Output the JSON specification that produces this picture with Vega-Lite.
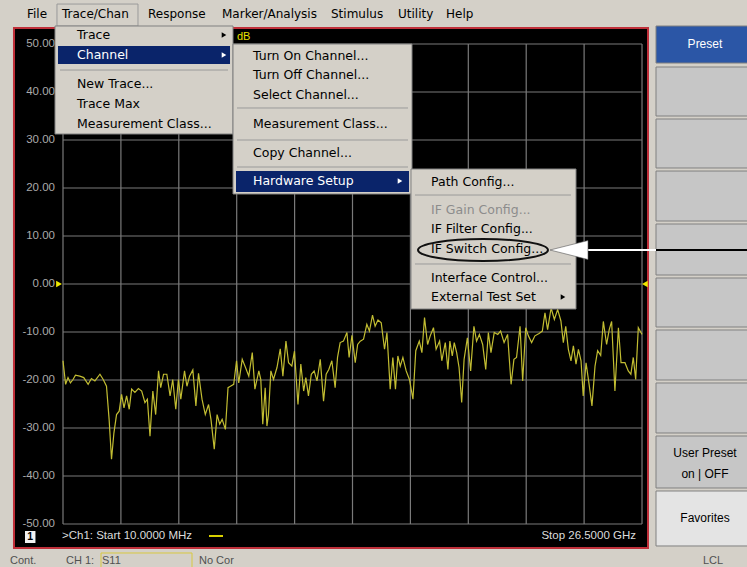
{
  "$schema": "https://vega.github.io/schema/vega-lite/v6.json",
  "width": 747,
  "height": 567,
  "padding": 0,
  "autosize": {"type": "none"},
  "background": "#d4d0c8",
  "config": {"view": {"stroke": null}, "axis": {"disable": true}},
  "data": {"values": [{}]},
  "datasets": {
    "window": [{"f": -2.232, "f2": 26.774, "db": 53.33, "db2": -55.0}],
    "buttons": [
      {"label": "Preset", "state": "active", "db": 53.75, "db2": 46.04, "mid": 49.9},
      {"label": "", "state": "normal", "db": 45.21, "db2": 35.0, "mid": 40.1},
      {"label": "", "state": "normal", "db": 34.375, "db2": 24.17, "mid": 29.3},
      {"label": "", "state": "normal", "db": 23.54, "db2": 13.125, "mid": 18.3},
      {"label": "", "state": "normal", "db": 12.5, "db2": 1.875, "mid": 7.2},
      {"label": "", "state": "normal", "db": 1.25, "db2": -8.96, "mid": -3.9},
      {"label": "", "state": "normal", "db": -9.58, "db2": -20.0, "mid": -14.8},
      {"label": "", "state": "normal", "db": -20.625, "db2": -31.04, "mid": -25.8},
      {"label": ["User Preset", "on | OFF"], "state": "normal", "db": -31.67, "db2": -42.5, "mid": -35.2},
      {"label": "Favorites", "state": "light", "db": -43.125, "db2": -54.58, "mid": -48.85}
    ],
    "vgrid": [
      {"f": 0.01}, {"f": 2.659}, {"f": 5.308}, {"f": 7.957}, {"f": 10.606}, {"f": 13.255},
      {"f": 15.904}, {"f": 18.553}, {"f": 21.202}, {"f": 23.851}, {"f": 26.5}
    ],
    "hgrid": [
      {"db": 50, "lab": "50.00"}, {"db": 40, "lab": "40.00"}, {"db": 30, "lab": "30.00"},
      {"db": 20, "lab": "20.00"}, {"db": 10, "lab": "10.00"}, {"db": 0, "lab": "0.00"},
      {"db": -10, "lab": "-10.00"}, {"db": -20, "lab": "-20.00"}, {"db": -30, "lab": "-30.00"},
      {"db": -40, "lab": "-40.00"}, {"db": -50, "lab": "-50.00"}
    ],
    "trace": [
      {"f": 0.01, "db": -16.0}, {"f": 0.13, "db": -20.9}, {"f": 0.24, "db": -19.5}, {"f": 0.35, "db": -20.6},
      {"f": 0.47, "db": -19.9}, {"f": 0.58, "db": -19.0}, {"f": 0.78, "db": -19.2}, {"f": 0.96, "db": -19.5},
      {"f": 1.16, "db": -20.9}, {"f": 1.31, "db": -19.7}, {"f": 1.47, "db": -20.2}, {"f": 1.7, "db": -18.8},
      {"f": 1.85, "db": -19.9}, {"f": 2.0, "db": -21.3}, {"f": 2.12, "db": -28.2}, {"f": 2.23, "db": -36.5},
      {"f": 2.34, "db": -31.0}, {"f": 2.46, "db": -27.2}, {"f": 2.58, "db": -26.5}, {"f": 2.69, "db": -23.0},
      {"f": 2.8, "db": -25.8}, {"f": 2.92, "db": -23.3}, {"f": 3.04, "db": -26.1}, {"f": 3.15, "db": -21.9},
      {"f": 3.3, "db": -22.6}, {"f": 3.46, "db": -21.8}, {"f": 3.61, "db": -22.3}, {"f": 3.76, "db": -24.7},
      {"f": 3.87, "db": -24.0}, {"f": 3.99, "db": -31.7}, {"f": 4.12, "db": -22.3}, {"f": 4.25, "db": -27.2},
      {"f": 4.38, "db": -18.1}, {"f": 4.48, "db": -21.6}, {"f": 4.61, "db": -18.8}, {"f": 4.76, "db": -18.8},
      {"f": 4.91, "db": -23.3}, {"f": 5.03, "db": -19.9}, {"f": 5.17, "db": -26.1}, {"f": 5.29, "db": -19.9},
      {"f": 5.4, "db": -24.0}, {"f": 5.57, "db": -18.1}, {"f": 5.68, "db": -21.3}, {"f": 5.8, "db": -19.2},
      {"f": 5.95, "db": -17.9}, {"f": 6.09, "db": -25.4}, {"f": 6.21, "db": -18.6}, {"f": 6.37, "db": -24.0},
      {"f": 6.52, "db": -27.2}, {"f": 6.67, "db": -25.1}, {"f": 6.78, "db": -28.2}, {"f": 6.93, "db": -34.4},
      {"f": 7.06, "db": -27.2}, {"f": 7.18, "db": -29.2}, {"f": 7.29, "db": -28.2}, {"f": 7.44, "db": -30.3},
      {"f": 7.56, "db": -21.6}, {"f": 7.67, "db": -21.3}, {"f": 7.82, "db": -20.9}, {"f": 7.95, "db": -16.0},
      {"f": 8.05, "db": -20.6}, {"f": 8.21, "db": -15.7}, {"f": 8.36, "db": -17.4}, {"f": 8.51, "db": -19.2},
      {"f": 8.67, "db": -14.3}, {"f": 8.79, "db": -21.9}, {"f": 8.97, "db": -18.1},
      {"f": 9.06, "db": -19.9}, {"f": 9.15, "db": -29.2}, {"f": 9.26, "db": -21.6}, {"f": 9.34, "db": -29.6},
      {"f": 9.41, "db": -27.2}, {"f": 9.52, "db": -18.1}, {"f": 9.64, "db": -19.9}, {"f": 9.8, "db": -17.4},
      {"f": 9.95, "db": -13.5}, {"f": 10.07, "db": -19.2}, {"f": 10.21, "db": -11.9}, {"f": 10.33, "db": -16.4},
      {"f": 10.48, "db": -17.1}, {"f": 10.6, "db": -14.0}, {"f": 10.76, "db": -25.1}, {"f": 10.89, "db": -16.7},
      {"f": 11.02, "db": -22.3}, {"f": 11.12, "db": -19.5}, {"f": 11.24, "db": -23.3}, {"f": 11.37, "db": -18.8},
      {"f": 11.5, "db": -18.1}, {"f": 11.63, "db": -20.2}, {"f": 11.78, "db": -15.7}, {"f": 11.93, "db": -24.4},
      {"f": 12.05, "db": -18.8}, {"f": 12.17, "db": -17.8}, {"f": 12.31, "db": -16.0}, {"f": 12.46, "db": -21.6},
      {"f": 12.57, "db": -15.3}, {"f": 12.69, "db": -12.2}, {"f": 12.84, "db": -11.9}, {"f": 13.0, "db": -10.1},
      {"f": 13.1, "db": -15.3}, {"f": 13.23, "db": -10.7}, {"f": 13.38, "db": -16.4}, {"f": 13.49, "db": -12.6},
      {"f": 13.61, "db": -11.9}, {"f": 13.76, "db": -11.5}, {"f": 13.91, "db": -8.4}, {"f": 14.03, "db": -9.8},
      {"f": 14.17, "db": -6.5}, {"f": 14.29, "db": -8.8}, {"f": 14.42, "db": -7.5}, {"f": 14.57, "db": -8.1},
      {"f": 14.72, "db": -13.6}, {"f": 14.83, "db": -10.1}, {"f": 14.98, "db": -21.9}, {"f": 15.1, "db": -15.3},
      {"f": 15.22, "db": -21.9}, {"f": 15.33, "db": -15.0}, {"f": 15.44, "db": -17.1}, {"f": 15.56, "db": -15.3},
      {"f": 15.71, "db": -18.1}, {"f": 15.86, "db": -19.9}, {"f": 16.02, "db": -24.0}, {"f": 16.15, "db": -13.9},
      {"f": 16.31, "db": -11.9}, {"f": 16.43, "db": -14.3}, {"f": 16.55, "db": -7.0}, {"f": 16.69, "db": -12.6},
      {"f": 16.81, "db": -10.8}, {"f": 16.96, "db": -9.1}, {"f": 17.08, "db": -13.6}, {"f": 17.24, "db": -11.9},
      {"f": 17.34, "db": -16.0}, {"f": 17.5, "db": -12.2}, {"f": 17.62, "db": -17.8},
      {"f": 17.71, "db": -11.9}, {"f": 17.82, "db": -15.0}, {"f": 17.91, "db": -12.2}, {"f": 18.02, "db": -14.3},
      {"f": 18.13, "db": -17.4}, {"f": 18.25, "db": -24.7}, {"f": 18.36, "db": -15.7}, {"f": 18.51, "db": -11.2},
      {"f": 18.66, "db": -18.1}, {"f": 18.81, "db": -8.8}, {"f": 18.93, "db": -11.9}, {"f": 19.06, "db": -10.5},
      {"f": 19.21, "db": -12.6}, {"f": 19.35, "db": -17.8}, {"f": 19.47, "db": -10.1}, {"f": 19.59, "db": -14.3},
      {"f": 19.74, "db": -10.1}, {"f": 19.9, "db": -10.5}, {"f": 20.03, "db": -9.8}, {"f": 20.19, "db": -12.2},
      {"f": 20.35, "db": -10.5}, {"f": 20.51, "db": -20.9}, {"f": 20.64, "db": -15.7}, {"f": 20.76, "db": -15.3},
      {"f": 20.92, "db": -8.8}, {"f": 21.04, "db": -20.2}, {"f": 21.18, "db": -9.1}, {"f": 21.3, "db": -10.8},
      {"f": 21.45, "db": -12.2}, {"f": 21.6, "db": -10.8}, {"f": 21.79, "db": -10.3}, {"f": 21.94, "db": -9.8},
      {"f": 22.06, "db": -6.0}, {"f": 22.18, "db": -9.5}, {"f": 22.34, "db": -5.0}, {"f": 22.49, "db": -7.4},
      {"f": 22.64, "db": -5.3}, {"f": 22.79, "db": -7.7}, {"f": 22.9, "db": -12.2}, {"f": 23.01, "db": -8.8},
      {"f": 23.13, "db": -13.6}, {"f": 23.25, "db": -16.0}, {"f": 23.36, "db": -12.9}, {"f": 23.48, "db": -16.7},
      {"f": 23.59, "db": -13.6}, {"f": 23.71, "db": -16.0}, {"f": 23.81, "db": -23.3}, {"f": 23.94, "db": -16.4},
      {"f": 24.07, "db": -20.6}, {"f": 24.21, "db": -25.4}, {"f": 24.35, "db": -17.1}, {"f": 24.47, "db": -13.9},
      {"f": 24.61, "db": -14.9}, {"f": 24.73, "db": -7.8}, {"f": 24.88, "db": -12.6}, {"f": 25.0, "db": -9.5},
      {"f": 25.11, "db": -7.8}, {"f": 25.26, "db": -22.3}, {"f": 25.42, "db": -9.1}, {"f": 25.54, "db": -16.4},
      {"f": 25.72, "db": -16.4}, {"f": 25.87, "db": -18.1}, {"f": 25.99, "db": -18.8}, {"f": 26.1, "db": -15.3},
      {"f": 26.21, "db": -19.9}, {"f": 26.33, "db": -9.1}, {"f": 26.45, "db": -10.1}, {"f": 26.5, "db": -10.5}
    ],
    "menubar": [
      {"label": "File", "f": -1.637}, {"label": "Trace/Chan", "f": -0.036}, {"label": "Response", "f": 3.899},
      {"label": "Marker/Analysis", "f": 7.284}, {"label": "Stimulus", "f": 12.271}, {"label": "Utility", "f": 15.336},
      {"label": "Help", "f": 17.532}
    ],
    "menus": [
      {"f": -0.356, "f2": 7.788, "db": 53.75, "db2": 31.25},
      {"f": 7.788, "f2": 15.977, "db": 50.0, "db2": 18.75},
      {"f": 15.931, "f2": 23.48, "db": 23.96, "db2": -5.21}
    ],
    "highlights": [
      {"f": -0.219, "f2": 7.651, "db": 49.58, "db2": 45.83},
      {"f": 7.925, "f2": 15.84, "db": 23.54, "db2": 19.17}
    ],
    "separators": [
      {"f": -0.127, "f2": 7.559, "db": 44.58},
      {"f": 7.971, "f2": 15.794, "db": 36.67},
      {"f": 7.971, "f2": 15.794, "db": 30.0},
      {"f": 7.971, "f2": 15.794, "db": 24.375},
      {"f": 16.114, "f2": 23.251, "db": 18.54},
      {"f": 16.114, "f2": 23.251, "db": 4.17}
    ],
    "items": [
      {"label": "Trace", "f": 0.651, "db": 51.875, "state": "normal"},
      {"label": "Channel", "f": 0.651, "db": 47.71, "state": "selected"},
      {"label": "New Trace...", "f": 0.651, "db": 41.67, "state": "normal"},
      {"label": "Trace Max", "f": 0.651, "db": 37.5, "state": "normal"},
      {"label": "Measurement Class...", "f": 0.651, "db": 33.33, "state": "normal"},
      {"label": "Turn On Channel...", "f": 8.703, "db": 47.5, "state": "normal"},
      {"label": "Turn Off Channel...", "f": 8.703, "db": 43.54, "state": "normal"},
      {"label": "Select Channel...", "f": 8.703, "db": 39.375, "state": "normal"},
      {"label": "Measurement Class...", "f": 8.703, "db": 33.33, "state": "normal"},
      {"label": "Copy Channel...", "f": 8.703, "db": 27.29, "state": "normal"},
      {"label": "Hardware Setup", "f": 8.703, "db": 21.46, "state": "selected"},
      {"label": "Path Config...", "f": 16.846, "db": 21.25, "state": "normal"},
      {"label": "IF Gain Config...", "f": 16.846, "db": 15.42, "state": "disabled"},
      {"label": "IF Filter Config...", "f": 16.846, "db": 11.46, "state": "normal"},
      {"label": "IF Switch Config...", "f": 16.846, "db": 7.29, "state": "normal"},
      {"label": "Interface Control...", "f": 16.846, "db": 1.25, "state": "normal"},
      {"label": "External Test Set", "f": 16.846, "db": -2.71, "state": "normal"}
    ],
    "arrows": [
      {"f": 7.376, "db": 51.875, "state": "normal"},
      {"f": 7.376, "db": 47.71, "state": "selected"},
      {"f": 15.428, "db": 21.46, "state": "selected"},
      {"f": 22.885, "db": -2.71, "state": "normal"}
    ],
    "callout": [{"f": 19.225, "db": 7.083}],
    "arrowhead": [{"f": 23.16, "db": 7.083}],
    "footer": [
      {"label": ">Ch1: Start  10.0000 MHz", "f": -0.036, "db": -52.5}
    ],
    "footerRight": [
      {"label": "Stop  26.5000 GHz", "f": 26.225, "db": -52.5}
    ],
    "status": [
      {"label": "Cont.", "f": -2.415}, {"label": "CH 1:", "f": 0.147}, {"label": "S11", "f": 1.794},
      {"label": "No Cor", "f": 6.232}, {"label": "LCL", "f": 29.29}
    ]
  },
  "layer": [
    {
      "data": {"name": "window"},
      "mark": {"type": "rect", "fill": "#000000", "stroke": "#c0303a", "strokeWidth": 2},
      "encoding": {
        "x": {"field": "f", "type": "quantitative", "scale": {"domain": [-2.872, 31.303], "nice": false, "zero": false}},
        "x2": {"field": "f2"},
        "y": {"field": "db", "type": "quantitative", "scale": {"domain": [-58.96, 59.17], "nice": false, "zero": false}},
        "y2": {"field": "db2"}
      }
    },
    {
      "data": {"name": "buttons"},
      "mark": {"type": "rect", "stroke": "#808080", "strokeWidth": 1},
      "encoding": {
        "x": {"datum": 27.14},
        "x2": {"datum": 31.6},
        "y": {"field": "db", "type": "quantitative"},
        "y2": {"field": "db2"},
        "fill": {"field": "state", "type": "nominal", "scale": {"domain": ["active", "normal", "light"], "range": ["#2b56a6", "#c6c6c6", "#e4e4e4"]}, "legend": null}
      }
    },
    {
      "data": {"name": "buttons"},
      "mark": {"type": "text", "font": "Liberation Sans", "fontSize": 12, "lineHeight": 21},
      "encoding": {
        "x": {"datum": 29.38},
        "y": {"field": "mid", "type": "quantitative"},
        "text": {"field": "label"},
        "color": {"condition": {"test": "datum.state === 'active'", "value": "#ffffff"}, "value": "#000000"}
      }
    },
    {
      "data": {"name": "vgrid"},
      "mark": {"type": "rule", "color": "#7a7a7a", "strokeWidth": 1.2},
      "encoding": {"x": {"field": "f", "type": "quantitative"}, "y": {"datum": 50}, "y2": {"datum": -50}}
    },
    {
      "data": {"name": "hgrid"},
      "mark": {"type": "rule", "color": "#7a7a7a", "strokeWidth": 1.2},
      "encoding": {"y": {"field": "db", "type": "quantitative"}, "x": {"datum": 0.01}, "x2": {"datum": 26.5}}
    },
    {
      "data": {"name": "hgrid"},
      "mark": {"type": "text", "align": "right", "font": "Liberation Sans", "fontSize": 11.5, "color": "#aaaaaa"},
      "encoding": {"y": {"field": "db", "type": "quantitative"}, "x": {"datum": -0.356}, "text": {"field": "lab"}}
    },
    {
      "data": {"name": "trace"},
      "mark": {"type": "line", "color": "#c2bd32", "strokeWidth": 1.2},
      "encoding": {"x": {"field": "f", "type": "quantitative"}, "y": {"field": "db", "type": "quantitative"}}
    },
    {
      "mark": {"type": "point", "shape": "triangle-right", "filled": true, "size": 45, "color": "#f0e800", "opacity": 1},
      "encoding": {"x": {"datum": -0.17}, "y": {"datum": 0}}
    },
    {
      "mark": {"type": "point", "shape": "triangle-left", "filled": true, "size": 45, "color": "#f0e800", "opacity": 1},
      "encoding": {"x": {"datum": 26.63}, "y": {"datum": 0}}
    },
    {
      "mark": {"type": "text", "align": "left", "font": "Liberation Sans", "fontSize": 11, "color": "#e8e000"},
      "encoding": {"x": {"datum": 7.971}, "y": {"datum": 51.46}, "text": {"value": "dB"}}
    },
    {
      "mark": {"type": "rect", "fill": "#f2f2f2"},
      "encoding": {"x": {"datum": -1.729}, "x2": {"datum": -1.25}, "y": {"datum": -51.46}, "y2": {"datum": -53.96}}
    },
    {
      "mark": {"type": "text", "font": "Liberation Sans", "fontSize": 10.5, "fontWeight": "bold", "color": "#000000"},
      "encoding": {"x": {"datum": -1.49}, "y": {"datum": -52.71}, "text": {"value": "1"}}
    },
    {
      "data": {"name": "footer"},
      "mark": {"type": "text", "align": "left", "font": "Liberation Sans", "fontSize": 11.5, "color": "#dcdcdc"},
      "encoding": {"x": {"field": "f", "type": "quantitative"}, "y": {"field": "db", "type": "quantitative"}, "text": {"field": "label"}}
    },
    {
      "data": {"name": "footerRight"},
      "mark": {"type": "text", "align": "right", "font": "Liberation Sans", "fontSize": 11.5, "color": "#dcdcdc"},
      "encoding": {"x": {"field": "f", "type": "quantitative"}, "y": {"field": "db", "type": "quantitative"}, "text": {"field": "label"}}
    },
    {
      "mark": {"type": "rule", "color": "#d8d000", "strokeWidth": 2},
      "encoding": {"x": {"datum": 6.689}, "x2": {"datum": 7.33}, "y": {"datum": -52.5}}
    },
    {
      "mark": {"type": "rect", "fill": "#d4d0c8", "stroke": "#9a9a9a", "strokeWidth": 1},
      "encoding": {"x": {"datum": -0.265}, "x2": {"datum": 3.441}, "y": {"datum": 58.33}, "y2": {"datum": 53.75}}
    },
    {
      "data": {"name": "menubar"},
      "mark": {"type": "text", "align": "left", "font": "DejaVu Sans", "fontSize": 12, "color": "#000000"},
      "encoding": {"x": {"field": "f", "type": "quantitative"}, "y": {"datum": 56.25}, "text": {"field": "label"}}
    },
    {
      "data": {"name": "menus"},
      "mark": {"type": "rect", "fill": "#d4d0c8", "stroke": "#808080", "strokeWidth": 1},
      "encoding": {"x": {"field": "f", "type": "quantitative"}, "x2": {"field": "f2"}, "y": {"field": "db", "type": "quantitative"}, "y2": {"field": "db2"}}
    },
    {
      "data": {"name": "highlights"},
      "mark": {"type": "rect", "fill": "#0a246a"},
      "encoding": {"x": {"field": "f", "type": "quantitative"}, "x2": {"field": "f2"}, "y": {"field": "db", "type": "quantitative"}, "y2": {"field": "db2"}}
    },
    {
      "data": {"name": "separators"},
      "mark": {"type": "rule", "color": "#9a9a9a", "strokeWidth": 1},
      "encoding": {"x": {"field": "f", "type": "quantitative"}, "x2": {"field": "f2"}, "y": {"field": "db", "type": "quantitative"}}
    },
    {
      "data": {"name": "items"},
      "mark": {"type": "text", "align": "left", "font": "DejaVu Sans", "fontSize": 12.5},
      "encoding": {
        "x": {"field": "f", "type": "quantitative"},
        "y": {"field": "db", "type": "quantitative"},
        "text": {"field": "label"},
        "color": {"field": "state", "type": "nominal", "scale": {"domain": ["normal", "selected", "disabled"], "range": ["#000000", "#ffffff", "#8c8c8c"]}, "legend": null}
      }
    },
    {
      "data": {"name": "arrows"},
      "mark": {"type": "point", "shape": "triangle-right", "filled": true, "size": 28, "opacity": 1},
      "encoding": {
        "x": {"field": "f", "type": "quantitative"},
        "y": {"field": "db", "type": "quantitative"},
        "color": {"field": "state", "type": "nominal", "legend": null}
      }
    },
    {
      "data": {"name": "callout"},
      "mark": {"type": "point", "shape": "M-1,0A1,0.17,0,1,1,1,0A1,0.17,0,1,1,-1,0Z", "filled": false, "size": 16900, "color": "#111111", "strokeWidth": 2, "opacity": 1},
      "encoding": {"x": {"field": "f", "type": "quantitative"}, "y": {"field": "db", "type": "quantitative"}}
    },
    {
      "mark": {"type": "rule", "color": "#ffffff", "strokeWidth": 2},
      "encoding": {"x": {"datum": 24.029}, "x2": {"datum": 27.14}, "y": {"datum": 7.083}}
    },
    {
      "mark": {"type": "rule", "color": "#000000", "strokeWidth": 2},
      "encoding": {"x": {"datum": 27.14}, "x2": {"datum": 31.5}, "y": {"datum": 7.083}}
    },
    {
      "data": {"name": "arrowhead"},
      "mark": {"type": "point", "shape": "M-1,0L1,-0.5L1,0.5Z", "filled": true, "size": 1444, "color": "#ffffff", "stroke": "#555555", "strokeWidth": 0.6, "opacity": 1},
      "encoding": {"x": {"field": "f", "type": "quantitative"}, "y": {"field": "db", "type": "quantitative"}}
    },
    {
      "mark": {"type": "rect", "fill": "transparent", "stroke": "#d8c840", "strokeWidth": 1},
      "encoding": {"x": {"datum": 1.749}, "x2": {"datum": 5.912}, "y": {"datum": -56.04}, "y2": {"datum": -59.5}}
    },
    {
      "data": {"name": "status"},
      "mark": {"type": "text", "align": "left", "font": "Liberation Sans", "fontSize": 11, "color": "#505050"},
      "encoding": {"x": {"field": "f", "type": "quantitative"}, "y": {"datum": -57.71}, "text": {"field": "label"}}
    }
  ]
}
